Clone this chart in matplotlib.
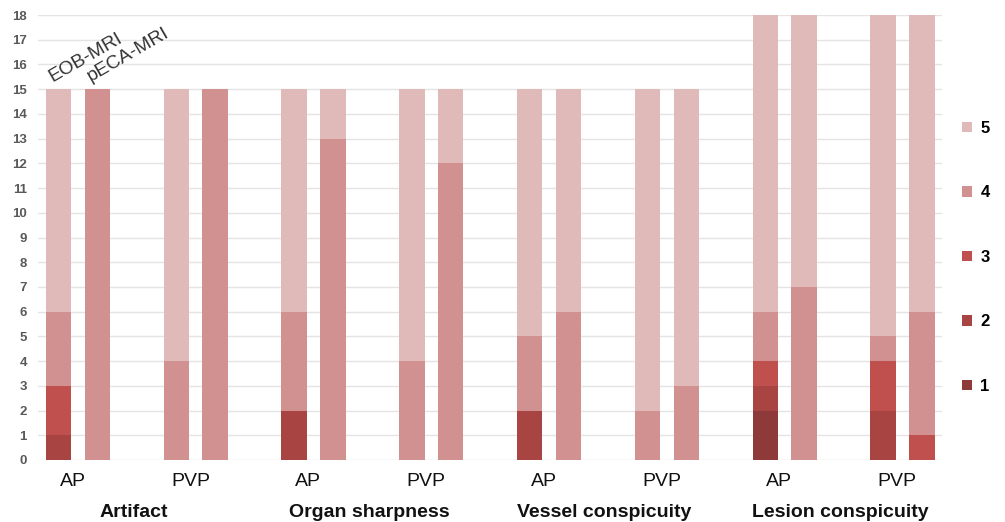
import matplotlib
matplotlib.use("Agg")
import matplotlib.pyplot as plt
import matplotlib.transforms as mtransforms
import numpy as np

# ---- data ----
groups = ["Artifact", "Organ sharpness", "Vessel conspicuity", "Lesion conspicuity"]
phases = ["AP", "PVP"]
series_names = ["EOB-MRI", "pECA-MRI"]
scores = ["1", "2", "3", "4", "5"]

# counts per score, order of slots: Artifact AP, Artifact PVP, Organ AP, Organ PVP,
# Vessel AP, Vessel PVP, Lesion AP, Lesion PVP
eob = {
    "1": [0, 0, 0, 0, 0, 0, 2, 0],
    "2": [1, 0, 2, 0, 2, 0, 1, 2],
    "3": [2, 0, 0, 0, 0, 0, 1, 2],
    "4": [3, 4, 4, 4, 3, 2, 2, 1],
    "5": [9, 11, 9, 11, 10, 13, 12, 13],
}
peca = {
    "1": [0, 0, 0, 0, 0, 0, 0, 0],
    "2": [0, 0, 0, 0, 0, 0, 0, 0],
    "3": [0, 0, 0, 0, 0, 0, 0, 1],
    "4": [15, 15, 13, 12, 6, 3, 7, 5],
    "5": [0, 0, 2, 3, 9, 12, 11, 12],
}
colors = {"1": "#8E3A3A", "2": "#A84543", "3": "#C0504D", "4": "#D19191", "5": "#E0B9B9"}

# ---- figure ----
fig = plt.figure(figsize=(10.05, 5.22), dpi=100)
ax = fig.add_axes([38 / 1005, 62 / 522, 904 / 1005, 445 / 522])

n = len(groups) * len(phases)
slots = np.arange(n)
off = 0.165
w = 0.216

handles = {}
for data, dx in ((eob, -off), (peca, off)):
    bottom = np.zeros(n)
    for s in scores:
        vals = np.array(data[s], dtype=float)
        b = ax.bar(slots + dx, vals, w, bottom=bottom, color=colors[s],
                   edgecolor="none", zorder=3)
        handles.setdefault(s, b)
        bottom += vals

ax.set_ylim(0, 18)
ax.set_xlim(-0.339, 7.335)
ax.set_yticks(range(0, 19))
ax.grid(axis="y", color="#E4E4E4", lw=1, zorder=0)
ax.set_axisbelow(True)
for sp in ax.spines.values():
    sp.set_visible(False)

sans = ["Liberation Sans", "DejaVu Sans"]
ax.tick_params(axis="y", length=0, pad=8, labelsize=9.5, labelcolor="#595959")
for lbl in ax.get_yticklabels():
    lbl.set_fontweight("bold")
    lbl.set_family(sans)

ax.set_xticks(slots - 0.045)
ax.set_xticklabels(phases * len(groups), fontsize=14, family=sans, color="#111111")
ax.tick_params(axis="x", length=0, pad=9)

trans = mtransforms.blended_transform_factory(ax.transData, ax.transAxes)
for gi, g in enumerate(groups):
    xc = slots[2 * gi:2 * gi + 2].mean() - 0.03
    ax.text(xc, -0.117, g, transform=trans, ha="center", va="center",
            fontsize=14, fontweight="bold", family=sans, color="#111111")

# series labels over first bars
for name, dx in zip(series_names, (-off, off)):
    ax.text(slots[0] + dx - w / 2 + 0.07, 15.15, name, rotation=30,
            rotation_mode="anchor", ha="left", va="bottom", fontsize=13.8,
            family=sans, color="#333333")

leg = fig.legend([handles[s] for s in scores[::-1]], scores[::-1],
                 loc="center left", bbox_to_anchor=(962 / 1005, 0.507),
                 frameon=False, borderpad=0, borderaxespad=0,
                 handlelength=0.6, handleheight=0.6, handletextpad=0.5,
                 labelspacing=2.97,
                 prop={"family": sans, "weight": "bold", "size": 12})

fig.savefig("out.png", dpi=100)
